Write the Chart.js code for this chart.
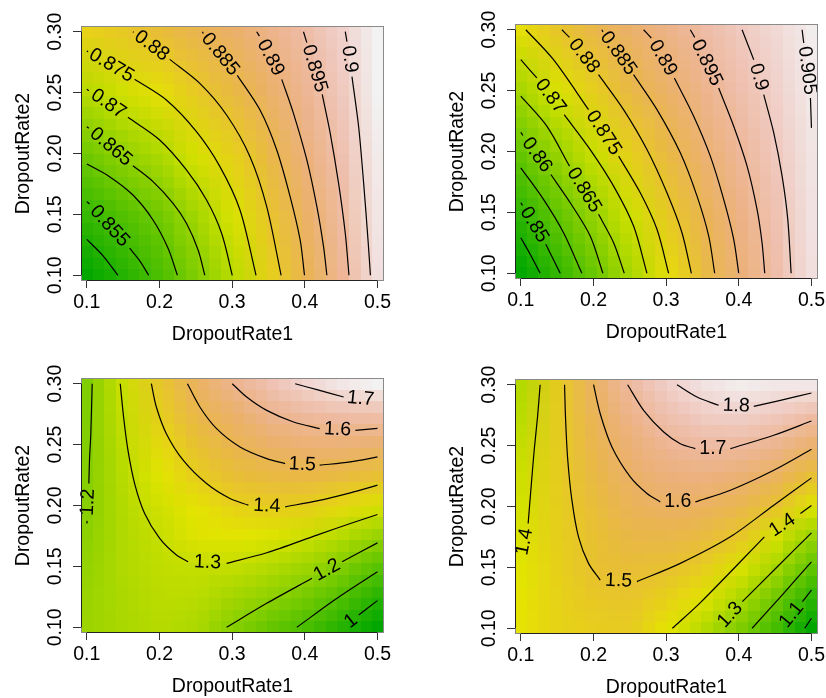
<!DOCTYPE html>
<html>
<head>
<meta charset="utf-8">
<script src="https://cdn.jsdelivr.net/npm/chart.js@4.4.1/dist/chart.umd.min.js"></script>
<style>
    html, body { margin: 0; padding: 0; background: #fff; width: 826px; height: 698px; overflow: hidden; }
    canvas { position: absolute; }
</style>
</head>
<body>
<canvas id="p1" width="398" height="349" style="left:0px;top:0px"></canvas>
<canvas id="p2" width="398" height="349" style="left:434px;top:-2px"></canvas>
<canvas id="p3" width="398" height="349" style="left:0px;top:352px"></canvas>
<canvas id="p4" width="398" height="349" style="left:434px;top:353px"></canvas>
<script>
// ── Data ──────────────────────────────────────────────────────────────────────
const xTicks = [0.1, 0.2, 0.3, 0.4, 0.5];
const yTicks = [0.10, 0.15, 0.20, 0.25, 0.30];

const gridX      = [0.1, 0.15, 0.2, 0.25, 0.3, 0.35, 0.4, 0.45, 0.5];
const gridYTop   = [0.1, 0.15, 0.2, 0.25, 0.3];
const gridYBot   = [0.1, 0.125, 0.15, 0.175, 0.2, 0.225, 0.25, 0.275, 0.3];

// surface values, rows from DropoutRate2 = 0.10 upwards
const z1 = [
    [0.8450, 0.8509, 0.8569, 0.8634, 0.8700, 0.8775, 0.8850, 0.8932, 0.9016],
    [0.8533, 0.8575, 0.8617, 0.8674, 0.8734, 0.8800, 0.8872, 0.8947, 0.9025],
    [0.8614, 0.8654, 0.8688, 0.8731, 0.8778, 0.8834, 0.8900, 0.8964, 0.9030],
    [0.8696, 0.8725, 0.8754, 0.8789, 0.8830, 0.8876, 0.8926, 0.8980, 0.9040],
    [0.8775, 0.8792, 0.8819, 0.8845, 0.8877, 0.8913, 0.8952, 0.8995, 0.9045],
];
const z2 = [
    [0.8400, 0.8492, 0.8578, 0.8662, 0.8744, 0.8824, 0.8900, 0.8970, 0.9038],
    [0.8486, 0.8566, 0.8641, 0.8707, 0.8784, 0.8851, 0.8919, 0.8980, 0.9042],
    [0.8573, 0.8642, 0.8704, 0.8772, 0.8829, 0.8890, 0.8945, 0.8997, 0.9045],
    [0.8657, 0.8719, 0.8776, 0.8829, 0.8880, 0.8928, 0.8972, 0.9013, 0.9052],
    [0.8743, 0.8793, 0.8839, 0.8883, 0.8924, 0.8962, 0.8997, 0.9028, 0.9058],
];
const z3 = [
    [1.235, 1.255, 1.275, 1.260, 1.193, 1.140, 1.083, 1.003, 0.920],
    [1.228, 1.260, 1.282, 1.280, 1.244, 1.211, 1.165, 1.097, 1.013],
    [1.220, 1.265, 1.290, 1.297, 1.295, 1.272, 1.239, 1.183, 1.118],
    [1.208, 1.268, 1.300, 1.335, 1.342, 1.335, 1.310, 1.273, 1.224],
    [1.198, 1.272, 1.316, 1.348, 1.390, 1.401, 1.394, 1.367, 1.331],
    [1.195, 1.280, 1.341, 1.399, 1.442, 1.466, 1.473, 1.462, 1.436],
    [1.191, 1.289, 1.370, 1.435, 1.493, 1.530, 1.550, 1.555, 1.543],
    [1.186, 1.300, 1.400, 1.479, 1.538, 1.598, 1.627, 1.646, 1.651],
    [1.185, 1.309, 1.423, 1.519, 1.600, 1.657, 1.715, 1.750, 1.770],
];
const z4 = [
    [1.415, 1.450, 1.465, 1.475, 1.408, 1.335, 1.239, 1.120, 0.965],
    [1.410, 1.455, 1.480, 1.490, 1.455, 1.405, 1.318, 1.206, 1.072],
    [1.402, 1.458, 1.502, 1.513, 1.503, 1.468, 1.393, 1.306, 1.180],
    [1.392, 1.462, 1.505, 1.542, 1.548, 1.529, 1.482, 1.382, 1.285],
    [1.380, 1.463, 1.520, 1.572, 1.596, 1.587, 1.555, 1.491, 1.396],
    [1.370, 1.467, 1.540, 1.600, 1.638, 1.646, 1.626, 1.581, 1.506],
    [1.358, 1.469, 1.559, 1.629, 1.682, 1.706, 1.701, 1.669, 1.613],
    [1.340, 1.470, 1.580, 1.663, 1.733, 1.768, 1.779, 1.759, 1.721],
    [1.330, 1.470, 1.600, 1.704, 1.778, 1.820, 1.840, 1.830, 1.829],
];
const zRange1 = [0.845, 0.904];
const zRange2 = [0.840, 0.9065];
const zRange3 = [0.920, 1.770];
const zRange4 = [0.965, 1.850];

// contour lines: [DropoutRate1, DropoutRate2] points, null = break for the label
const levels1 = [0.85, 0.855, 0.86, 0.865, 0.87, 0.875, 0.88, 0.885, 0.89, 0.895, 0.9];
const lines1 = [
    [[0.1, 0.1295], [0.1215, 0.1165], [0.1428, 0.1]],
    [[0.1, 0.1605], [0.1037, 0.1585], null, [0.1589, 0.1222], [0.1727, 0.112], [0.1851, 0.1]],
    [[0.1, 0.1914], [0.1313, 0.181], [0.1635, 0.1659], [0.1911, 0.1454], [0.2118, 0.1222], [0.2247, 0.1]],
    [[0.1, 0.222], [0.1028, 0.2207], null, [0.1635, 0.19], [0.1911, 0.1769], [0.2187, 0.1591], [0.2371, 0.1427], [0.2532, 0.1208], [0.2624, 0.1]],
    [[0.1, 0.2527], [0.1028, 0.2516], null, [0.1566, 0.2297], [0.2003, 0.2111], [0.2371, 0.1865], [0.2648, 0.1618], [0.2855, 0.1345], [0.3002, 0.1]],
    [[0.1, 0.2841], [0.1018, 0.2836], null, [0.1658, 0.2609], [0.2095, 0.2439], [0.2509, 0.2179], [0.2832, 0.1892], [0.3108, 0.1536], [0.3329, 0.1]],
    [[0.1635, 0.3], [0.1644, 0.2995], null, [0.2141, 0.2773], [0.2555, 0.2576], [0.2924, 0.2316], [0.3246, 0.1974], [0.3476, 0.1564], [0.3674, 0.1]],
    [[0.2592, 0.3], [0.2601, 0.2986], null, [0.3071, 0.2642], [0.3384, 0.2357], [0.3614, 0.2029], [0.3798, 0.1646], [0.3936, 0.129], [0.3996, 0.1]],
    [[0.3338, 0.3], [0.3375, 0.2964], null, [0.3683, 0.2609], [0.3844, 0.233], [0.4028, 0.1947], [0.4166, 0.1564], [0.4258, 0.1235], [0.4304, 0.1]],
    [[0.3982, 0.3], [0.4028, 0.291], null, [0.424, 0.2486], [0.435, 0.2166], [0.4465, 0.1755], [0.4557, 0.1345], [0.4608, 0.1]],
    [[0.4557, 0.3], [0.458, 0.2918], null, [0.4649, 0.2631], [0.4741, 0.222], [0.481, 0.1755], [0.487, 0.129], [0.4903, 0.1]],
];

const levels2 = [0.845, 0.85, 0.855, 0.86, 0.865, 0.87, 0.875, 0.88, 0.885, 0.89, 0.895, 0.9, 0.905];
const lines2 = [
    [[0.1, 0.1292], [0.1129, 0.1156], [0.1266, 0.1]],
    [[0.1, 0.1579], [0.1023, 0.1557], null, [0.1344, 0.1238], [0.1542, 0.1]],
    [[0.1, 0.1866], [0.1312, 0.1607], [0.1588, 0.1333], [0.184, 0.1]],
    [[0.1, 0.2158], [0.1028, 0.2131], null, [0.1413, 0.1811], [0.168, 0.1579], [0.1955, 0.1306], [0.213, 0.1]],
    [[0.1, 0.2454], [0.1358, 0.2208], [0.167, 0.188], null, [0.207, 0.1484], [0.2277, 0.1251], [0.2424, 0.1]],
    [[0.1, 0.2754], [0.122, 0.2604], null, [0.1597, 0.2303], [0.1955, 0.2016], [0.2277, 0.1716], [0.2552, 0.1388], [0.2736, 0.1]],
    [[0.1069, 0.3], [0.145, 0.2754], [0.1932, 0.2344], null, [0.2346, 0.1962], [0.2644, 0.1661], [0.2874, 0.1361], [0.3034, 0.1]],
    [[0.1565, 0.3], [0.167, 0.2937], null, [0.207, 0.2631], [0.2414, 0.2344], [0.2736, 0.2016], [0.3011, 0.1661], [0.3218, 0.1333], [0.3347, 0.1]],
    [[0.2116, 0.3], [0.213, 0.2981], null, [0.2552, 0.2631], [0.2874, 0.2344], [0.3195, 0.1989], [0.3425, 0.1634], [0.3586, 0.1306], [0.3668, 0.1]],
    [[0.269, 0.3], [0.2796, 0.2932], null, [0.3113, 0.2604], [0.3379, 0.229], [0.3608, 0.1962], [0.3792, 0.1607], [0.393, 0.1279], [0.3999, 0.1]],
    [[0.3333, 0.3], [0.3393, 0.2937], null, [0.3723, 0.2522], [0.393, 0.2208], [0.4114, 0.188], [0.4251, 0.1525], [0.432, 0.1251], [0.4357, 0.1]],
    [[0.4045, 0.3], [0.4206, 0.2754], null, [0.4343, 0.2467], [0.4481, 0.2153], [0.4596, 0.1798], [0.4674, 0.1443], [0.472, 0.1]],
    [[0.4871, 0.3], [0.4894, 0.2891], null, [0.4986, 0.244], [0.5, 0.2194]],
];

const levels3 = [1.2, 1.3, 1.4, 1.5, 1.6, 1.7, 1.2, 1.1, 1];
const lines3 = [
    [[0.1074, 0.3], [0.1055, 0.259], [0.1037, 0.2372], [0.1028, 0.218], null, [0.1005, 0.1874], [0.1, 0.1852]],
    [[0.146, 0.3], [0.1506, 0.2727], [0.1566, 0.2454], [0.1658, 0.218], [0.1796, 0.1934], [0.2003, 0.173], [0.2234, 0.1593], [0.2395, 0.1538], null, [0.2924, 0.1525], [0.3476, 0.1612], [0.4167, 0.1757], [0.4627, 0.1852], [0.5, 0.1926]],
    [[0.1888, 0.3], [0.1957, 0.2809], [0.2095, 0.259], [0.2326, 0.2372], [0.2648, 0.218], [0.297, 0.2057], [0.3223, 0.2003], null, [0.373, 0.1989], [0.4167, 0.2038], [0.4627, 0.2104], [0.5, 0.2167]],
    [[0.2385, 0.3], [0.2556, 0.2809], [0.2786, 0.2631], [0.3108, 0.2481], [0.3476, 0.2385], [0.373, 0.2344], null, [0.4204, 0.2331], [0.4627, 0.2358], [0.5, 0.2399]],
    [[0.3002, 0.3], [0.32, 0.2891], [0.3476, 0.2781], [0.3845, 0.2686], [0.4204, 0.2631], null, [0.4696, 0.2617], [0.5, 0.2634]],
    [[0.3868, 0.3], [0.4167, 0.2951], [0.4535, 0.2891], null, [0.5, 0.2863]],
    [[0.2924, 0.1], [0.3476, 0.1197], [0.4099, 0.1402], null, [0.4513, 0.1538], [0.5, 0.1693]],
    [[0.3891, 0.1], [0.4443, 0.1238], [0.5, 0.1456]],
    [[0.4526, 0.1], null, [0.4742, 0.1101], [0.5, 0.1219]],
];

const levels4 = [1.4, 1.5, 1.6, 1.7, 1.8, 1.4, 1.3, 1.2, 1.1, 1];
const lines4 = [
    [[0.1266, 0.3], [0.123, 0.2735], [0.1184, 0.2462], [0.1138, 0.2134], [0.1101, 0.1861], null, [0.1, 0.156]],
    [[0.1602, 0.3], [0.1615, 0.2735], [0.1643, 0.2407], [0.1703, 0.2052], [0.1794, 0.1751], [0.1932, 0.1533], [0.2093, 0.1396], null, [0.2598, 0.1383], [0.3195, 0.1533], [0.3884, 0.1751], [0.4481, 0.2011], [0.5, 0.2235]],
    [[0.2001, 0.3], [0.2093, 0.2762], [0.2254, 0.2489], [0.2506, 0.2243], [0.2736, 0.2107], [0.2919, 0.2038], null, [0.3402, 0.2038], [0.3884, 0.2134], [0.4481, 0.2298], [0.5, 0.247]],
    [[0.247, 0.3], [0.269, 0.279], [0.2966, 0.2612], [0.3195, 0.2516], [0.3402, 0.2475], null, [0.3884, 0.2475], [0.4481, 0.2585], [0.5, 0.2702]],
    [[0.3149, 0.3], [0.3425, 0.2899], [0.3723, 0.2831], null, [0.4206, 0.2822], [0.4573, 0.2872], [0.5, 0.2932]],
    [[0.3085, 0.1], [0.3475, 0.1213], [0.4352, 0.1751], null, [0.4848, 0.1943], [0.5, 0.2008]],
    [[0.3714, 0.1], null, [0.4049, 0.1219], [0.4527, 0.1503], [0.5, 0.1784]],
    [[0.4183, 0.1], [0.4596, 0.1273], [0.5, 0.1546]],
    [[0.4578, 0.1], null, [0.4876, 0.1219], [0.5, 0.1314]],
    [[0.4908, 0.1], [0.5, 0.1082]],
];

// ── Look ──────────────────────────────────────────────────────────────────────
const FONT = '"Liberation Sans", Arial, Helvetica, sans-serif';
const FONT_SIZE = 19.5;

Chart.defaults.font.family = FONT;
Chart.defaults.font.size   = FONT_SIZE;
Chart.defaults.color       = '#000';

// R terrain.colors, continuous
function terrain(t) {
    t = Math.min(1, Math.max(0, t));
    let h, s, v;
    if (t < 0.5) {
        const u = t / 0.5;
        h = 120 - 60 * u; s = 1; v = 0.65 + 0.25 * u;
    } else {
        const u = (t - 0.5) / 0.5;
        h = 60 - 60 * u; s = 1 - u; v = 0.9 + 0.05 * u;
    }
    const c  = v * s;
    const hp = h / 60;
    const x  = c * (1 - Math.abs((hp % 2) - 1));
    const m  = v - c;
    const rgb = hp < 1 ? [c, x, 0] : [x, c, 0];
    return rgb.map(k => Math.round((k + m) * 255));
}

// ── Plugins ───────────────────────────────────────────────────────────────────
function heatPlugin(z, ys, zRange) {
    const nx = gridX.length, ny = ys.length;
    const small = document.createElement('canvas');
    small.width = nx; small.height = ny;
    const sctx = small.getContext('2d');
    const img  = sctx.createImageData(nx, ny);
    for (let j = 0; j < ny; j++) {
        for (let i = 0; i < nx; i++) {
            const rgb = terrain((z[ny - 1 - j][i] - zRange[0]) / (zRange[1] - zRange[0]));
            const k = (j * nx + i) * 4;
            img.data[k] = rgb[0]; img.data[k + 1] = rgb[1]; img.data[k + 2] = rgb[2]; img.data[k + 3] = 255;
        }
    }
    sctx.putImageData(img, 0, 0);

    return {
        id: 'heat',
        beforeDatasetsDraw(chart) {
            const { ctx, chartArea: a, scales: { x, y } } = chart;
            const cw   = x.getPixelForValue(gridX[1]) - x.getPixelForValue(gridX[0]);
            const ch   = y.getPixelForValue(ys[0]) - y.getPixelForValue(ys[1]);
            const left = x.getPixelForValue(gridX[0]) - cw / 2;
            const top  = y.getPixelForValue(ys[ny - 1]) - ch / 2;

            // image cells like the R raster (about 11.6 px)
            const cols = Math.round(a.width / 11.65);
            const rows = Math.round(a.height / 11.6);
            const mid  = document.createElement('canvas');
            mid.width = cols; mid.height = rows;
            const mctx = mid.getContext('2d');
            mctx.imageSmoothingEnabled = true;
            const sx = cols / a.width, sy = rows / a.height;
            mctx.drawImage(small, (left - a.left) * sx, (top - a.top) * sy, cw * nx * sx, ch * ny * sy);

            ctx.save();
            ctx.imageSmoothingEnabled = false;
            ctx.drawImage(mid, a.left, a.top, a.width, a.height);
            ctx.restore();
        },
    };
}

const contourLabels = {
    id: 'contourLabels',
    afterDatasetsDraw(chart) {
        const { ctx, scales: { x, y } } = chart;
        ctx.save();
        ctx.font = `${FONT_SIZE}px ${FONT}`;
        ctx.fillStyle = '#000';
        ctx.textAlign = 'center';
        ctx.textBaseline = 'middle';
        chart.data.datasets.forEach(ds => {
            const k = ds.data.findIndex(p => p.y === null);
            if (k < 1 || k >= ds.data.length - 1) return;
            const p = ds.data[k - 1], q = ds.data[k + 1];
            const ax = x.getPixelForValue(p.x), ay = y.getPixelForValue(p.y);
            const bx = x.getPixelForValue(q.x), by = y.getPixelForValue(q.y);
            let dx = bx - ax, dy = by - ay;
            if (dx < 0) { dx = -dx; dy = -dy; }
            ctx.save();
            ctx.translate((ax + bx) / 2, (ay + by) / 2);
            ctx.rotate(Math.atan2(dy, dx));
            ctx.fillText(String(ds.level), 0, 0);
            ctx.restore();
        });
        ctx.restore();
    },
};

// box + R style axis lines (first to last tick)
const rAxes = {
    id: 'rAxes',
    afterDatasetsDraw(chart) {
        const { ctx, chartArea: a, scales: { x, y } } = chart;
        ctx.save();
        ctx.lineWidth = 1;
        ctx.strokeStyle = '#8a8a8a';
        ctx.strokeRect(Math.round(a.left) + 0.5, Math.round(a.top) + 0.5,
                       Math.round(a.width) - 1, Math.round(a.height) - 1);
        ctx.strokeStyle = '#222';
        ctx.beginPath();
        const lx = Math.round(a.left) + 0.5;
        ctx.moveTo(lx, y.getPixelForValue(yTicks[0]));
        ctx.lineTo(lx, y.getPixelForValue(yTicks[yTicks.length - 1]));
        const by = Math.round(a.bottom) - 0.5;
        ctx.moveTo(x.getPixelForValue(xTicks[0]), by);
        ctx.lineTo(x.getPixelForValue(xTicks[xTicks.length - 1]), by);
        ctx.stroke();
        ctx.restore();
    },
};

// ── Charts ────────────────────────────────────────────────────────────────────
function makePanel(id, z, ys, zRange, levels, lines) {
    const datasets = lines.map((pts, i) => ({
        level:           levels[i],
        data:            pts.map((p, j) => p ? { x: p[0], y: p[1] } : { x: pts[j - 1][0], y: null }),
        showLine:        true,
        spanGaps:        false,
        borderColor:     '#000',
        borderWidth:     1.2,
        pointRadius:     0,
        pointHoverRadius: 0,
        tension:         0.3,
        fill:            false,
    }));

    return new Chart(document.getElementById(id), {
        type: 'scatter',
        data: { datasets },
        plugins: [heatPlugin(z, ys, zRange), contourLabels, rAxes],
        options: {
            responsive: false,
            animation:  false,
            events:     [],
            layout: { padding: { top: 26, right: 14, left: 0, bottom: 0 } },
            plugins: {
                legend:  { display: false },
                tooltip: { enabled: false },
            },
            scales: {
                x: {
                    type: 'linear',
                    min:  0.092,
                    max:  0.509,
                    afterBuildTicks: s => { s.ticks = xTicks.map(v => ({ value: v })); },
                    afterFit: s => { s.height = 68; s.paddingLeft = 0; s.paddingRight = 0; },
                    ticks: {
                        autoSkip: false,
                        maxRotation: 0,
                        padding: 3.1,
                        callback: v => Number(v).toFixed(1),
                    },
                    grid:   { drawOnChartArea: false, drawTicks: true, tickLength: 7, color: '#333', lineWidth: 1 },
                    border: { display: false },
                    title:  { display: true, text: 'DropoutRate1', padding: { top: 0, bottom: 2.7 } },
                },
                y: {
                    type: 'linear',
                    min:  0.0953,
                    max:  0.3047,
                    afterBuildTicks: s => { s.ticks = yTicks.map(v => ({ value: v })); },
                    afterFit: s => { s.width = 81; s.paddingTop = 0; s.paddingBottom = 0; },
                    ticks: {
                        autoSkip: false,
                        minRotation: 90,
                        maxRotation: 90,
                        crossAlign: 'center',
                        padding: -1.7,
                        callback: v => Number(v).toFixed(2),
                    },
                    grid:   { drawOnChartArea: false, drawTicks: true, tickLength: 8, color: '#333', lineWidth: 1 },
                    border: { display: false },
                    title:  { display: true, text: 'DropoutRate2', padding: { top: 11.8, bottom: 0 } },
                },
            },
        },
    });
}

makePanel('p1', z1, gridYTop, zRange1, levels1, lines1);
makePanel('p2', z2, gridYTop, zRange2, levels2, lines2);
makePanel('p3', z3, gridYBot, zRange3, levels3, lines3);
makePanel('p4', z4, gridYBot, zRange4, levels4, lines4);
</script>
</body>
</html>
